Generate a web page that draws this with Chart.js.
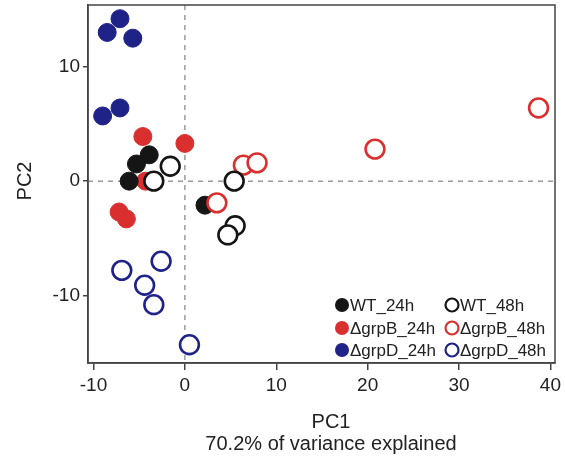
<!DOCTYPE html>
<html>
<head>
<meta charset="utf-8">
<title>PCA</title>
<script src="https://cdn.jsdelivr.net/npm/chart.js@4.4.1/dist/chart.umd.min.js"></script>
<style>
  html, body { margin: 0; padding: 0; background: #fff; }
  canvas { display: block; }
</style>
</head>
<body>
<canvas id="pca" width="565" height="460"></canvas>
<script>
// data (PC1, PC2)
const seriesLabels = ["WT_24h", "ΔgrpB_24h", "ΔgrpD_24h", "WT_48h", "ΔgrpB_48h", "ΔgrpD_48h"];

const wt24X = [-3.9, -5.3, -6.1, 2.2];
const wt24Y = [2.3, 1.5, 0.0, -2.1];
const grpB24X = [-4.6, 0.0, -7.2, -6.4, -4.3];
const grpB24Y = [3.9, 3.3, -2.7, -3.3, 0.0];
const grpD24X = [-7.1, -8.5, -5.7, -9.0, -7.1];
const grpD24Y = [14.2, 13.0, 12.5, 5.7, 6.4];

const wt48X = [-1.6, -3.4, 5.4, 5.5, 4.7];
const wt48Y = [1.3, 0.0, 0.0, -3.9, -4.7];
const grpB48X = [6.4, 7.9, 3.5, 20.8, 38.7];
const grpB48Y = [1.4, 1.6, -1.9, 2.8, 6.4];
const grpD48X = [-6.9, -2.6, -4.4, -3.4, 0.5];
const grpD48Y = [-7.8, -7.0, -9.1, -10.8, -14.3];

const xTicks = [-10, 0, 10, 20, 30, 40];
const yTicks = [-10, 0, 10];

const black = "#151515";
const red = "#d9302f";
const blue = "#1f2287";
const textCol = "#222";
const fontFam = "'Liberation Sans', Arial, Helvetica, sans-serif";

function pts(xs, ys) {
  return xs.map((x, i) => ({ x: x, y: ys[i] }));
}

function filled(label, xs, ys, col) {
  return {
    label: label,
    data: pts(xs, ys),
    backgroundColor: col,
    borderColor: col,
    borderWidth: 1,
    pointRadius: 9,
    pointHoverRadius: 9,
    order: 1,
    filled: true
  };
}

function open(label, xs, ys, col) {
  return {
    label: label,
    data: pts(xs, ys),
    backgroundColor: "#fff",
    borderColor: col,
    borderWidth: 2.6,
    pointRadius: 9.4,
    pointHoverRadius: 9.4,
    order: 0,
    filled: false
  };
}

const datasets = [
  filled(seriesLabels[0], wt24X, wt24Y, black),
  filled(seriesLabels[1], grpB24X, grpB24Y, red),
  filled(seriesLabels[2], grpD24X, grpD24Y, blue),
  open(seriesLabels[3], wt48X, wt48Y, black),
  open(seriesLabels[4], grpB48X, grpB48Y, red),
  open(seriesLabels[5], grpD48X, grpD48Y, blue)
];

// dashed lines through the origin
const zeroLines = {
  id: "zeroLines",
  beforeDatasetsDraw(chart) {
    const { ctx, chartArea, scales } = chart;
    const x0 = scales.x.getPixelForValue(0);
    const y0 = scales.y.getPixelForValue(0);
    ctx.save();
    ctx.strokeStyle = "#9a9a9a";
    ctx.lineWidth = 1.5;
    ctx.setLineDash([5, 5]);
    ctx.beginPath();
    ctx.moveTo(x0, chartArea.top);
    ctx.lineTo(x0, chartArea.bottom);
    ctx.moveTo(chartArea.left, y0);
    ctx.lineTo(chartArea.right, y0);
    ctx.stroke();
    ctx.restore();
  }
};

// box, legend and axis titles
const decor = {
  id: "decor",
  afterDraw(chart) {
    const { ctx, chartArea } = chart;
    ctx.save();
    ctx.strokeStyle = "#444";
    ctx.lineWidth = 1.5;
    ctx.strokeRect(chartArea.left, chartArea.top, chartArea.right - chartArea.left, chartArea.bottom - chartArea.top);

    // legend, two columns
    const colX = [342, 452];
    const rowY = [305, 328, 350];
    ctx.font = "17px " + fontFam;
    ctx.textBaseline = "middle";
    ctx.textAlign = "left";
    chart.data.datasets.forEach((ds, i) => {
      const c = i < 3 ? 0 : 1;
      const r = i % 3;
      const mx = colX[c], my = rowY[r];
      ctx.beginPath();
      ctx.arc(mx, my, ds.filled ? 7 : 6.5, 0, Math.PI * 2);
      if (ds.filled) {
        ctx.fillStyle = ds.borderColor;
        ctx.fill();
      } else {
        ctx.lineWidth = 2.2;
        ctx.strokeStyle = ds.borderColor;
        ctx.stroke();
      }
      ctx.fillStyle = textCol;
      ctx.fillText(ds.label, mx + 8, my + 1);
    });

    // axis titles
    ctx.fillStyle = textCol;
    ctx.font = "20px " + fontFam;
    ctx.textAlign = "center";
    ctx.fillText("PC1", 331, 422);
    ctx.fillText("70.2% of variance explained", 331, 444);
    ctx.translate(25, 181);
    ctx.rotate(-Math.PI / 2);
    ctx.fillText("PC2", 0, 0);
    ctx.restore();
  }
};

new Chart(document.getElementById("pca"), {
  type: "scatter",
  data: { datasets: datasets },
  plugins: [zeroLines, decor],
  options: {
    responsive: false,
    animation: false,
    events: [],
    layout: { autoPadding: false, padding: { left: 0, top: 5, right: 10, bottom: 0 } },
    plugins: {
      legend: { display: false },
      tooltip: { enabled: false }
    },
    scales: {
      x: {
        type: "linear",
        min: -10.6,
        max: 40.5,
        afterBuildTicks: s => { s.ticks = xTicks.map(v => ({ value: v })); },
        afterFit: s => { s.height = 97; s.paddingLeft = 0; s.paddingRight = 0; },
        grid: { drawOnChartArea: false, drawTicks: true, tickLength: 7, color: "#444", lineWidth: 1.5 },
        border: { display: true, color: "#444", width: 1.5 },
        ticks: { color: textCol, font: { size: 19, family: fontFam }, padding: 4, maxRotation: 0 }
      },
      y: {
        type: "linear",
        min: -15.9,
        max: 15.4,
        afterBuildTicks: s => { s.ticks = yTicks.map(v => ({ value: v })); },
        afterFit: s => { s.width = 88; s.paddingTop = 0; s.paddingBottom = 0; },
        grid: { drawOnChartArea: false, drawTicks: true, tickLength: 5, color: "#444", lineWidth: 1.5 },
        border: { display: true, color: "#444", width: 1.5 },
        ticks: { color: textCol, font: { size: 19, family: fontFam }, padding: 3 }
      }
    }
  }
});
</script>
</body>
</html>
